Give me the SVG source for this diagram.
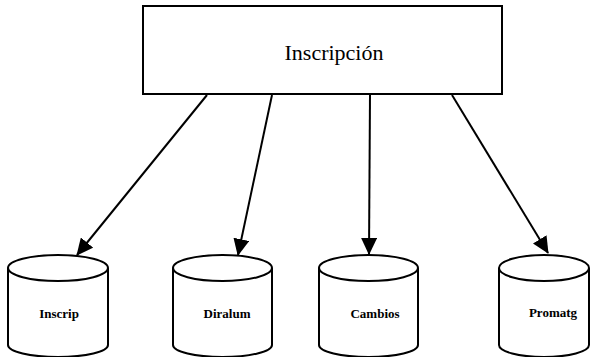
<svg xmlns="http://www.w3.org/2000/svg" width="590" height="357" viewBox="0 0 590 357">
<style>
.box{fill:#fff;stroke:#000;stroke-width:2}
.cyl{fill:#fff;stroke:#000;stroke-width:2}
.conn{stroke:#000;stroke-width:2;fill:none}
.t1{font-family:"Liberation Serif",serif;font-size:22px;fill:#000}
.t2{font-family:"Liberation Serif",serif;font-size:13px;font-weight:bold;fill:#000}
</style>
<defs>
<marker id="arrow" markerWidth="17" markerHeight="16" refX="16" refY="8" orient="auto" markerUnits="userSpaceOnUse">
<path d="M0,0 L17,8 L0,16 z" fill="#000"/>
</marker>
</defs>
<g id="inscripcion">
<rect class="box" x="143" y="6" width="359" height="88"/>
<text class="t1" x="334" y="60" text-anchor="middle">Inscripción</text>
</g>
<g id="connectors">
<line class="conn" x1="207" y1="95" x2="77" y2="255" marker-end="url(#arrow)"/>
<line class="conn" x1="272" y1="95" x2="238" y2="255" marker-end="url(#arrow)"/>
<line class="conn" x1="370" y1="95" x2="369" y2="254" marker-end="url(#arrow)"/>
<line class="conn" x1="452" y1="95" x2="548" y2="253" marker-end="url(#arrow)"/>
</g>
<g id="inscrip">
<path class="cyl" d="M8,268 L8,345 A50,12 0 0 0 108,345 L108,268"/>
<ellipse class="cyl" cx="58" cy="268" rx="50" ry="13"/>
<text class="t2" x="59" y="318" text-anchor="middle">Inscrip</text>
</g>
<g id="diralum">
<path class="cyl" d="M173,268 L173,345 A49.5,12 0 0 0 272,345 L272,268"/>
<ellipse class="cyl" cx="222.5" cy="268" rx="49.5" ry="13"/>
<text class="t2" x="227" y="318" text-anchor="middle">Diralum</text>
</g>
<g id="cambios">
<path class="cyl" d="M319,268 L319,345 A49.5,12 0 0 0 418,345 L418,268"/>
<ellipse class="cyl" cx="368.5" cy="268" rx="49.5" ry="13"/>
<text class="t2" x="375" y="318" text-anchor="middle">Cambios</text>
</g>
<g id="promatg">
<path class="cyl" d="M499,268 L499,345 A45,12 0 0 0 589,345 L589,268"/>
<ellipse class="cyl" cx="544" cy="268" rx="45" ry="13"/>
<text class="t2" x="553" y="317" text-anchor="middle">Promatg</text>
</g>
</svg>
